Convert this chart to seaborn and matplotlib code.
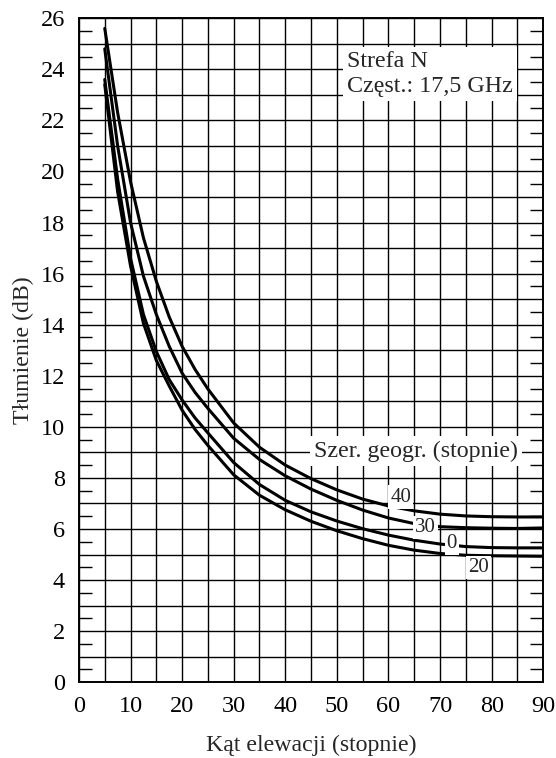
import matplotlib
matplotlib.use("Agg")
import matplotlib.pyplot as plt
from matplotlib.ticker import FixedLocator
import numpy as np
import pandas as pd
import seaborn as sns

# ==========================================
# dane
# ==========================================
elev = [5, 7.5, 10, 12.5, 15, 17.5, 20, 22.5, 25, 30, 35, 40, 45, 50, 55, 60, 65, 70, 75, 80, 85, 90]
lat_40 = [25.6, 22.3, 19.6, 17.4, 15.7, 14.3, 13.15, 12.25, 11.48, 10.15, 9.2, 8.5, 7.97, 7.53, 7.17, 6.9, 6.71, 6.58, 6.51, 6.48, 6.47, 6.47]
lat_30 = [24.8, 21.0, 18.0, 15.9, 14.4, 13.15, 12.1, 11.35, 10.72, 9.55, 8.72, 8.08, 7.56, 7.12, 6.74, 6.43, 6.21, 6.09, 6.05, 6.03, 6.02, 6.04]
lat_0 = [23.6, 19.7, 16.6, 14.4, 12.95, 11.85, 11.05, 10.35, 9.76, 8.6, 7.74, 7.12, 6.67, 6.31, 6.01, 5.76, 5.56, 5.41, 5.31, 5.27, 5.26, 5.26]
lat_20 = [23.4, 19.2, 16.3, 14.05, 12.6, 11.6, 10.65, 9.9, 9.27, 8.12, 7.32, 6.75, 6.3, 5.93, 5.62, 5.36, 5.17, 5.04, 4.97, 4.95, 4.94, 4.93]

latitudes = ['40', '30', '0', '20']
series = [lat_40, lat_30, lat_0, lat_20]

# etykiety krzywych (pozycje w jednostkach danych)
label_pos = {'40': (62.4, 7.25), '30': (67.2, 6.05), '0': (72.3, 5.43), '20': (77.4, 4.5)}

df = pd.concat([pd.DataFrame({'elev': elev, 'att': s, 'lat': lat})
                for lat, s in zip(latitudes, series)], ignore_index=True)

# ==========================================
# rysunek
# ==========================================
sns.set_style('ticks')
plt.rcParams['font.family'] = ['Liberation Serif', 'DejaVu Serif']

fig = plt.figure(figsize=(5.56, 7.58), dpi=100)
ax = fig.add_axes([0.142, 0.100, 0.835, 0.876])

sns.lineplot(data=df, x='elev', y='att', hue='lat', palette=['black'] * 4,
             linewidth=2.2, legend=False, ax=ax, zorder=2)

ax.set_xlim(0, 90)
ax.set_ylim(0, 26)

# siatka: co 5 stopni i co 1 dB
ax.set_xticks(np.arange(0, 91, 5))
ax.set_xticklabels([str(v) if v % 10 == 0 else '' for v in range(0, 91, 5)])
ax.set_yticks(np.arange(0, 27, 1))
ax.set_yticklabels([str(v) if v % 2 == 0 else '' for v in range(0, 27)])
ax.yaxis.set_minor_locator(FixedLocator(np.arange(0.5, 26, 1)))
ax.grid(True, which='major', color='black', linewidth=1.0)
ax.set_axisbelow(True)

ax.tick_params(axis='both', which='major', length=0, labelsize=17.5, pad=10, colors='black')
ax.tick_params(axis='y', which='minor', direction='in', length=9.5, width=1.0,
               left=True, right=True, color='black')
for sp in ax.spines.values():
    sp.set_color('black')
    sp.set_linewidth(1.4)

ax.set_xlabel('Kąt elewacji (stopnie)', fontsize=17.2, labelpad=13)
ax.set_ylabel('Tłumienie (dB)', fontsize=17.2, labelpad=5)

box = dict(facecolor='white', edgecolor='none', pad=1.5)
ax.text(52.0, 24.7, 'Strefa N\nCzęst.: 17,5 GHz', fontsize=17.3, ha='left', va='top',
        linespacing=1.2, bbox=dict(facecolor='white', edgecolor='none', pad=3), zorder=4)
ax.text(65.3, 9.05, 'Szer. geogr. (stopnie)', fontsize=17.3, ha='center', va='center',
        bbox=dict(facecolor='white', edgecolor='none', pad=3), zorder=4)

for lat in latitudes:
    x, y = label_pos[lat]
    ax.text(x, y, lat, fontsize=15, ha='center', va='center', bbox=box, zorder=4)

plt.savefig('out.png', dpi=100)
